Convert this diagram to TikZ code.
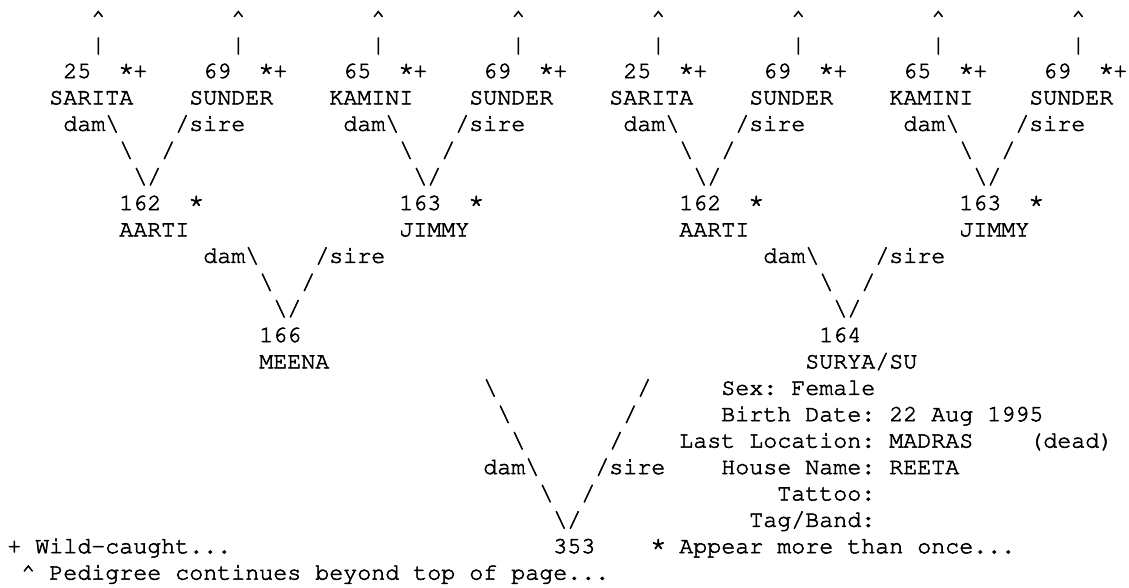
\documentclass[tikz,border=0pt]{standalone}
\usepackage[T1]{fontenc}
\usepackage{courier}
\frenchspacing
\newcommand\heavier{\special{pdf:literal direct 2 Tr 0.4 w}}
\newcommand\astk{\makebox[0.6em][c]{\raisebox{1.6pt}{\scalebox{1.2}{*}}}}
\tikzset{
  tt/.style={inner sep=0pt, outer sep=0pt, anchor=base west,
    font=\fontsize{17.5pt}{21pt}\selectfont\ttfamily\frenchspacing\heavier, text=black}
}
\newcommand\tk[4]{\node[tt] (#1) at ({7.3+14*(#2)},{78+((#3)-3)*26.4}) {#4};}
\newcommand\bs{\textbackslash}
\begin{document}
\begin{tikzpicture}[x=0.75pt,y=-0.75pt]
\fill[white] (0,0) rectangle (1129,587);
\useasboundingbox (0,0) rectangle (1129,587);
% top generation (8 ancestors)
\foreach \k/\num/\nm in {0/25/SARITA,1/69/SUNDER,2/65/KAMINI,3/69/SUNDER,
                         4/25/SARITA,5/69/SUNDER,6/65/KAMINI,7/69/SUNDER}{
  \tk{car\k}{10*\k+6}{1}{\textasciicircum}
  \tk{bar\k}{10*\k+6}{2}{|}
  \tk{id\k}{10*\k+4}{3}{\num}
  \tk{mk\k}{10*\k+8}{3}{\astk+}
  \tk{nm\k}{10*\k+3}{4}{\nm}
}
% second generation (4 parents)
\foreach \p/\num/\nm in {0/162/AARTI,1/163/JIMMY,2/162/AARTI,3/163/JIMMY}{
  \tk{dama\p}{20*\p+4}{5}{dam\bs}
  \tk{sirea\p}{20*\p+12}{5}{/sire}
  \tk{la\p}{20*\p+8}{6}{\bs}
  \tk{ra\p}{20*\p+11}{6}{/}
  \tk{va\p}{20*\p+9}{7}{\bs/}
  \tk{pid\p}{20*\p+8}{8}{\num}
  \tk{pmk\p}{20*\p+13}{8}{\astk}
  \tk{pnm\p}{20*\p+8}{9}{\nm}
}
% third generation (2 parents of 353)
\foreach \q/\num in {0/166,1/164}{
  \tk{damb\q}{40*\q+14}{10}{dam\bs}
  \tk{sireb\q}{40*\q+22}{10}{/sire}
  \tk{lb\q}{40*\q+18}{11}{\bs}
  \tk{rb\q}{40*\q+21}{11}{/}
  \tk{vb\q}{40*\q+19}{12}{\bs/}
  \tk{gid\q}{40*\q+18}{13}{\num}
}
\tk{meena}{18}{14}{MEENA}
\tk{surya}{57}{14}{SURYA/SU}
% lines down to the focal animal
\tk{lc1}{34}{15}{\bs}  \tk{rc1}{45}{15}{/}
\tk{lc2}{35}{16}{\bs}  \tk{rc2}{44}{16}{/}
\tk{lc3}{36}{17}{\bs}  \tk{rc3}{43}{17}{/}
\tk{damc}{34}{18}{dam\bs} \tk{sirec}{42}{18}{/sire}
\tk{lc4}{38}{19}{\bs}  \tk{rc4}{41}{19}{/}
\tk{vc}{39}{20}{\bs/}
\tk{root}{39}{21}{353}
% details of the focal animal
\tk{sex}{51}{15}{Sex: Female}
\tk{birth}{51}{16}{Birth Date: 22 Aug 1995}
\tk{loc}{48}{17}{Last Location: MADRAS}
\tk{dead}{73}{17}{(dead)}
\tk{house}{51}{18}{House Name: REETA}
\tk{tattoo}{55}{19}{Tattoo:}
\tk{tag}{53}{20}{Tag/Band:}
% legend
\tk{wild}{0}{21}{+ Wild-caught...}
\tk{once}{46}{21}{\astk{} Appear more than once...}
\tk{cont}{1}{22}{\textasciicircum{} Pedigree continues beyond top of page...}
\end{tikzpicture}
\end{document}
